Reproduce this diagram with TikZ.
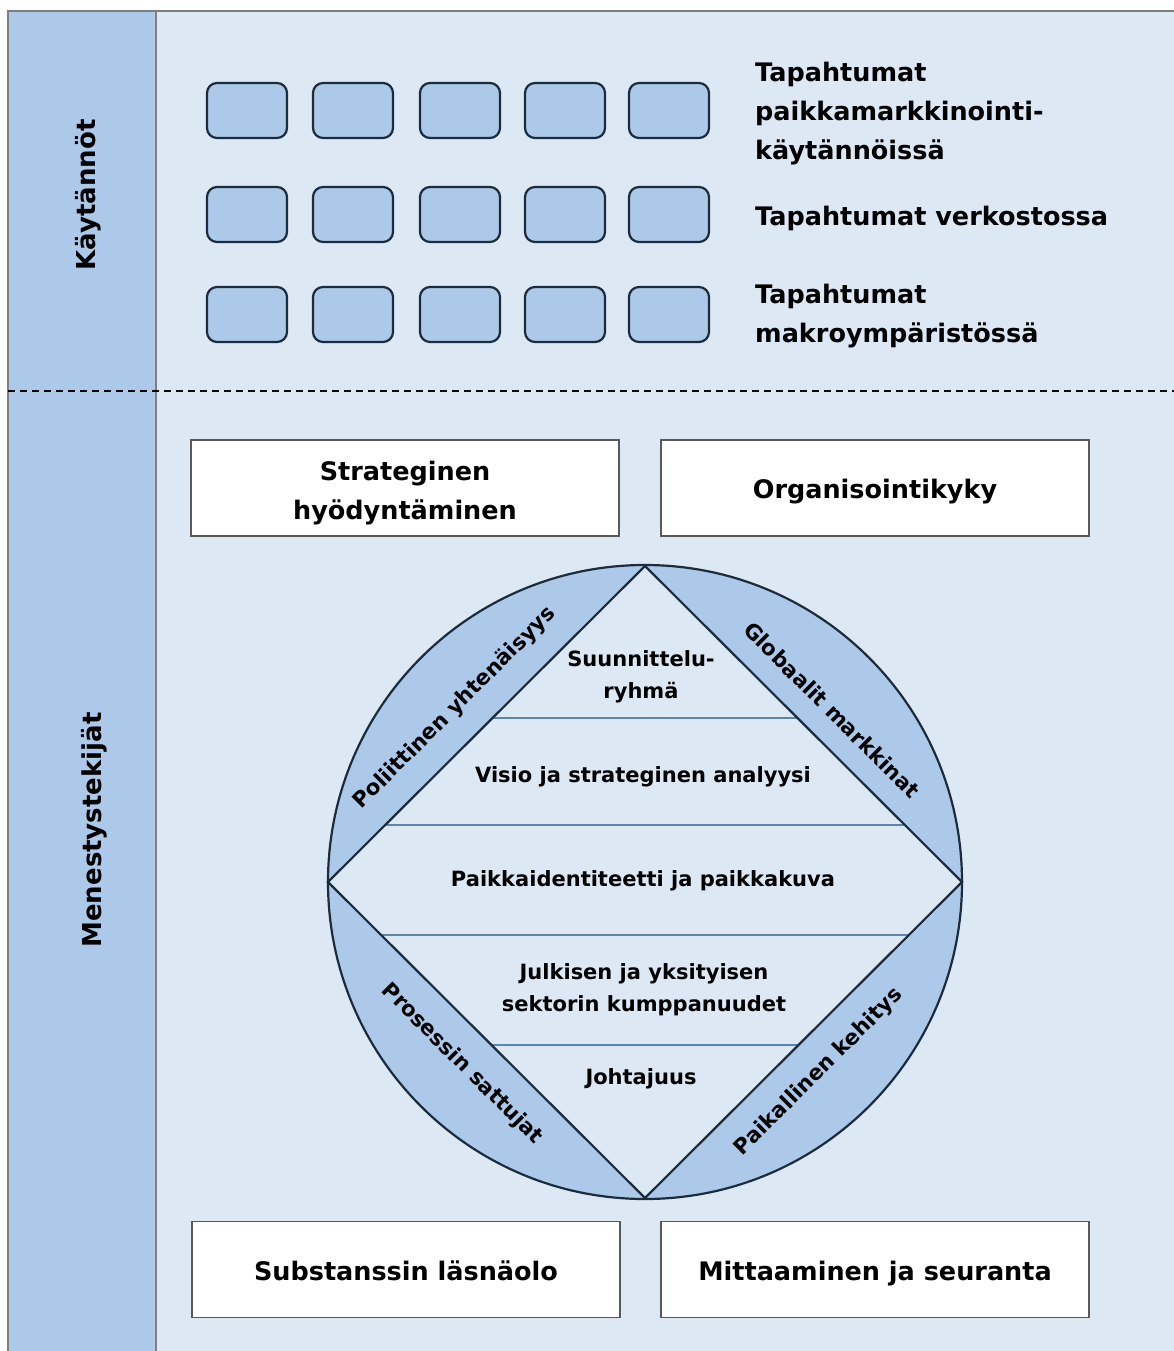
\documentclass[tikz,border=0pt]{standalone}
\usepackage{fontspec}
\setmainfont{DejaVu Sans}
\definecolor{mainbg}{HTML}{DDE8F5}
\definecolor{colbg}{HTML}{ADC9E9}
\definecolor{darkline}{HTML}{1B2C3C}
\definecolor{stripe}{HTML}{5D87AA}
\definecolor{framegray}{HTML}{7F7F7F}
\definecolor{boxgray}{HTML}{595959}
\tikzset{
  smallbox/.style={draw=darkline, line width=2.2pt, fill=colbg, rounded corners=10pt,
    minimum width=80pt, minimum height=55pt, inner sep=0pt},
  whitebox/.style={draw=boxgray, line width=1.5pt, fill=white,
    minimum width=428pt, minimum height=96pt, inner sep=0pt},
  boxtext/.style={anchor=base, inner sep=0pt,
    font=\fontsize{25.5}{39}\selectfont\bfseries},
  rlabel/.style={anchor=west, align=left, inner sep=0pt,
    font=\fontsize{25.5}{39}\selectfont\bfseries},
  dtext/.style={align=center, inner sep=0pt, font=\fontsize{21}{32}\selectfont\bfseries},
  stext/.style={inner sep=0pt, font=\fontsize{21.3}{24}\selectfont\bfseries},
  coltext/.style={rotate=90, inner sep=0pt, font=\fontsize{26}{30}\selectfont\bfseries}
}
\begin{document}
\begin{tikzpicture}[x=1pt,y=-1pt]
\useasboundingbox (0,0) rectangle (1174,1351);
\fill[white] (0,0) rectangle (1174,1351);
% main area
\fill[mainbg] (8,11) rectangle (1174,1351);
\fill[colbg] (8,11) rectangle (156,1351);
\draw[framegray, line width=1.5pt] (8,1351) -- (8,11) -- (1174,11);
\draw[framegray, line width=1.5pt] (156,11) -- (156,1351);
\draw[black, line width=1.5pt, dash pattern=on 7pt off 5pt] (8,391) -- (1174,391);
% column labels
\node[coltext] (kay) at (88,195) {Käytännöt};
\node[coltext] (men) at (94,830) {Menestystekijät};
% small boxes
\foreach \r/\y in {1/110.5,2/214.5,3/314.5}{
  \foreach \c/\x in {1/247,2/353,3/460,4/565,5/669}{
    \node[smallbox] (b\r\c) at (\x,\y) {};
  }
}
% right labels
\node[rlabel, anchor=north west] (l1) at (755,62) {Tapahtumat\\paikkamarkkinointi-\\käytännöissä};
\node[rlabel] (l2) at (755,218) {Tapahtumat verkostossa};
\node[rlabel, anchor=north west] (l3) at (755,284) {Tapahtumat\\makroympäristössä};
% white boxes
\node[whitebox] (sh) at (405,488) {};
\node[whitebox] (ok) at (875,488) {};
\node[whitebox] (sl) at (406,1269.5) {};
\node[whitebox] (ms) at (875,1269.5) {};
\node[boxtext] (sh1) at (405,480) {Strateginen};
\node[boxtext] (sh2) at (405,519) {hyödyntäminen};
\node[boxtext] (okt) at (875,498) {Organisointikyky};
\node[boxtext] (slt) at (406,1280) {Substanssin läsnäolo};
\node[boxtext] (mst) at (875,1280) {Mittaaminen ja seuranta};
% circle and diamond
\coordinate (cc) at (645,882);
\coordinate (dt) at (645,566);
\coordinate (dr) at (962,882);
\coordinate (db) at (645,1198);
\coordinate (dl) at (328,882);
\fill[colbg] (cc) circle[radius=317pt];
\fill[mainbg] (dt) -- (dr) -- (db) -- (dl) -- cycle;
\begin{scope}
\clip (dt) -- (dr) -- (db) -- (dl) -- cycle;
\foreach \yy in {718,825,935,1045}{
  \draw[stripe, line width=1.6pt] (300,\yy) -- (1000,\yy);
}
\end{scope}
\draw[darkline, line width=2.2pt] (cc) circle[radius=317pt];
\draw[darkline, line width=2.2pt, line join=miter] (dt) -- (dr) -- (db) -- (dl) -- cycle;
% diamond texts
\node[dtext] (t1) at (641,677) {Suunnittelu-\\ryhmä};
\node[dtext] (t2) at (643,777) {Visio ja strateginen analyysi};
\node[dtext] (t3) at (643,881) {Paikkaidentiteetti ja paikkakuva};
\node[dtext] (t4) at (644,990) {Julkisen ja yksityisen\\sektorin kumppanuudet};
\node[dtext] (t5) at (641,1079) {Johtajuus};
% segment texts
\node[stext, rotate=45] (s1) at (455,708) {Poliittinen yhtenäisyys};
\node[stext, rotate=-45] (s2) at (832,710) {Globaalit markkinat};
\node[stext, rotate=-45] (s3) at (462,1064) {Prosessin sattujat};
\node[stext, rotate=45] (s4) at (819,1072) {Paikallinen kehitys};
\end{tikzpicture}
\end{document}
